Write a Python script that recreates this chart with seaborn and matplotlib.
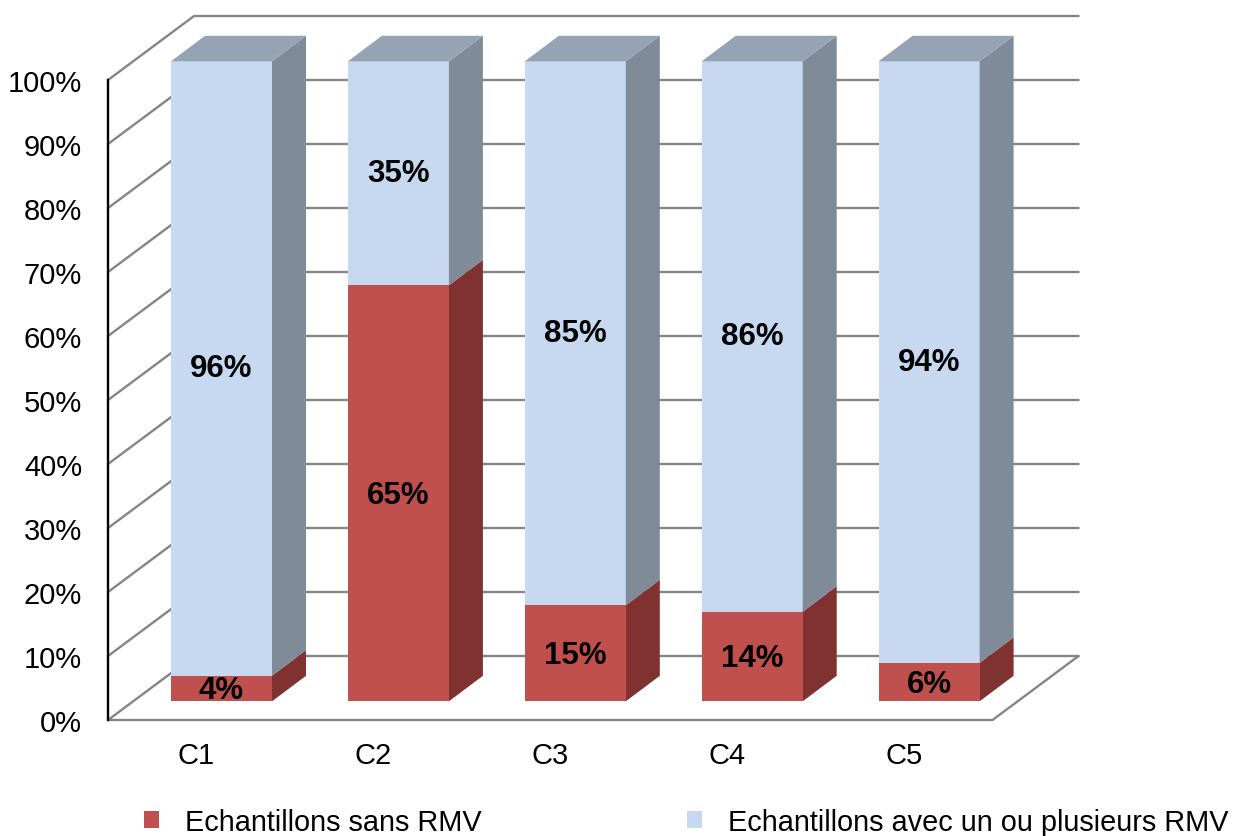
import matplotlib
matplotlib.use("Agg")
import matplotlib.pyplot as plt
from matplotlib.patches import Polygon, Patch
import pandas as pd
import seaborn as sns

# ---- data ----
categories = ["C1", "C2", "C3", "C4", "C5"]
sans_rmv = [4, 65, 15, 14, 6]
avec_rmv = [96, 35, 85, 86, 94]
y_ticks = list(range(0, 101, 10))
legend_labels = ["Echantillons sans RMV", "Echantillons avec un ou plusieurs RMV"]

sns.set_style("white")
plt.rcParams["font.family"] = ["Liberation Sans", "DejaVu Sans"]
plt.rcParams["text.color"] = "black"

RED, RED_SIDE = "#C0504D", "#803231"
BLUE, BLUE_SIDE, BLUE_TOP = "#C6D9F1", "#7F8B98", "#96A3B5"
GRID = "#858585"

W, H = 1234, 837
fig = plt.figure(figsize=(W / 100, H / 100), dpi=100)

# pixel geometry of the plane holding the bar fronts
PX_X0, PX_STEP = 221.5, 176.9     # centre of first bar, bar spacing
PX_Y0, PX_PER_PCT = 702.3, 6.4    # baseline (from top), pixels per percent
xlim = (-1.0, 5.2)
ylim = (-12, 109)
left = (PX_X0 + xlim[0] * PX_STEP) / W
right = (PX_X0 + xlim[1] * PX_STEP) / W
bottom = (H - (PX_Y0 - ylim[0] * PX_PER_PCT)) / H
top = (H - (PX_Y0 - ylim[1] * PX_PER_PCT)) / H
ax = fig.add_axes([left, bottom, right - left, top - bottom])


def px_vec(dx, dy):
    """Oblique depth offset given in pixels -> data units."""
    return (dx / PX_STEP, -dy / PX_PER_PCT)


FRONT = px_vec(-25, 18.7)    # front edge of the walls
BACK = px_vec(61, -45.3)     # back wall
DEPTH = px_vec(34, -25.5)    # bar depth

# ---- bars (front faces) ----
df = pd.DataFrame({"categorie": categories, "sans": sans_rmv, "avec": avec_rmv})
df["total"] = df["sans"] + df["avec"]
sns.barplot(data=df, x="categorie", y="total", color=BLUE, saturation=1,
            width=0.571, linewidth=0, errorbar=None, ax=ax, zorder=3)
n_blue = len(ax.patches)
sns.barplot(data=df, x="categorie", y="sans", color=RED, saturation=1,
            width=0.571, linewidth=0, errorbar=None, ax=ax, zorder=4)
blue_bars = ax.patches[:n_blue]
red_bars = ax.patches[n_blue:]

dx, dy = DEPTH
for bb, rb, s, a in zip(blue_bars, red_bars, sans_rmv, avec_rmv):
    xl = bb.get_x()
    xr = xl + bb.get_width()
    tot = bb.get_height()
    red_h = rb.get_height()
    # side faces
    for lo, hi, col in [(0, red_h, RED_SIDE), (red_h, tot, BLUE_SIDE)]:
        ax.add_patch(Polygon([(xr, lo), (xr + dx, lo + dy), (xr + dx, hi + dy), (xr, hi)],
                             closed=True, facecolor=col, edgecolor="none", zorder=3))
    # top face
    ax.add_patch(Polygon([(xl, tot), (xr, tot), (xr + dx, tot + dy), (xl + dx, tot + dy)],
                         closed=True, facecolor=BLUE_TOP, edgecolor="none", zorder=3))
    cx = xl + bb.get_width() / 2
    ax.text(cx, red_h / 2 - 0.3, f"{s}%", ha="center", va="center", fontsize=22.5,
            fontweight="bold", color="black", zorder=6)
    ax.text(cx, red_h + a / 2, f"{a}%", ha="center", va="center", fontsize=22.5,
            fontweight="bold", color="black", zorder=6)

# ---- walls, floor and gridlines ----
x0, x1 = -0.5, 4.5
for v in y_ticks:
    ax.plot([x0 + FRONT[0], x0 + BACK[0], x1 + BACK[0]],
            [v + FRONT[1], v + BACK[1], v + BACK[1]],
            color=GRID, lw=1.7, zorder=1, solid_joinstyle="miter")
ax.plot([x0 + FRONT[0], x1 + FRONT[0], x1 + BACK[0]],
        [FRONT[1], FRONT[1], BACK[1]],
        color=GRID, lw=1.7, zorder=1, solid_joinstyle="miter")

# ---- axes ----
ax.set_xlim(*xlim)
ax.set_ylim(*ylim)
ax.set_xticks([i + FRONT[0] for i in range(len(categories))])
ax.set_xticklabels(categories)
ax.set_yticks([v + FRONT[1] for v in y_ticks])
ax.set_yticklabels([f"{v}%" for v in y_ticks])
ax.set_xlabel("")
ax.set_ylabel("")
for side in ["top", "right"]:
    ax.spines[side].set_visible(False)
ax.spines["bottom"].set_position(("data", FRONT[1]))
ax.spines["bottom"].set_visible(False)
ax.spines["left"].set_position(("data", x0 + FRONT[0]))
ax.spines["left"].set_bounds(FRONT[1], 100 + FRONT[1])
ax.spines["left"].set_color("black")
ax.spines["left"].set_linewidth(1.7)
ax.spines["left"].set_zorder(2)
ax.tick_params(axis="y", length=0, labelsize=21, pad=18.7, colors="black")
ax.tick_params(axis="x", length=0, labelsize=21, pad=15.0, colors="black")
ax.patch.set_alpha(0)

# ---- legend ----
handles = [Patch(facecolor=RED, edgecolor="none"), Patch(facecolor=BLUE, edgecolor="none")]
fig.legend(handles, legend_labels, ncol=2, frameon=False, loc="upper left",
           bbox_to_anchor=(144 / W, (H - 809) / H), fontsize=20.8, labelcolor="black",
           handlelength=0.52, handleheight=0.52, handletextpad=0.9,
           columnspacing=7.1, borderpad=0, borderaxespad=0)

fig.savefig("out.png", dpi=100)
